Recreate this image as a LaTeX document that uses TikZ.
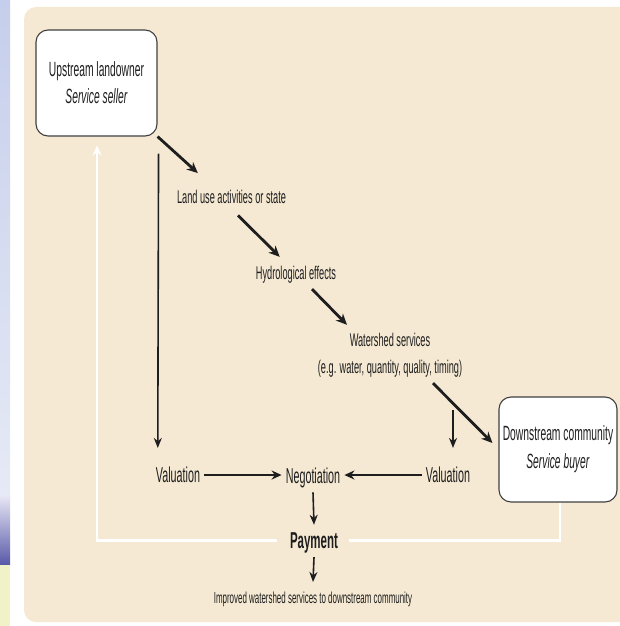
\documentclass[tikz,border=0pt]{standalone}
\usepackage{fontspec}
\setmainfont[FakeStretch=0.5]{Liberation Sans}
\usetikzlibrary{arrows.meta,calc}
\definecolor{panel}{HTML}{F5E9D3}
\definecolor{ink}{HTML}{1E1E1E}
\definecolor{stripA}{RGB}{197,206,236}
\definecolor{stripB}{RGB}{230,234,246}
\definecolor{stripC}{RGB}{232,232,246}
\definecolor{stripD}{RGB}{88,88,168}
\definecolor{stripE}{RGB}{242,242,200}
\begin{document}
\begin{tikzpicture}[x=1pt,y=-1pt,
  lbl/.style={text=ink, inner sep=0pt, anchor=base, font=\fontsize{18.4}{22}\selectfont},
  big/.style={text=ink, inner sep=0pt, anchor=base, font=\fontsize{21.5}{25}\selectfont},
  paylbl/.style={text=ink, inner sep=0pt, anchor=base, font=\fontsize{23}{27}\selectfont\bfseries},
  smalllbl/.style={text=ink, inner sep=0pt, anchor=base, font=\fontsize{15.9}{19}\selectfont},
  box/.style={draw=black!75, line width=1.1pt, fill=white, rounded corners=12pt, align=center, text=ink, inner sep=0pt, font=\fontsize{20.6}{27}\selectfont},
  arr/.style={draw=ink, line width=2.8pt, -{Stealth[length=11pt,width=10pt]}},
  varr/.style={draw=ink, line width=1.6pt, -{Stealth[length=10pt,width=8pt]}},
  harr/.style={draw=ink, line width=2.2pt, -{Stealth[length=10pt,width=9pt]}},
  wline/.style={draw=white, line width=2.6pt}]
\useasboundingbox (0,0) rectangle (619,626);
% left background strip
\shade[top color=stripA, bottom color=stripB] (0,0) rectangle (10,495);
\shade[top color=stripC, bottom color=stripD] (0,495) rectangle (10,565);
\fill[stripE] (0,565) rectangle (10,626);
% panel
\fill[panel, rounded corners=12pt] (24,7) rectangle (660,622);
% boxes
\node[box, minimum width=121pt, minimum height=106pt] (up) at (96.5,83) {Upstream landowner\\\textit{Service seller}};
\node[box, minimum width=118pt, minimum height=105pt, font=\fontsize{20.6}{28}\selectfont] (down) at (558,449.5) {Downstream community\\\textit{Service buyer}};
% labels
\node[lbl] (landuse) at (231.5,203.6) {Land use activities or state};
\node[lbl] (hydro) at (296,279.6) {Hydrological effects};
\node[text=ink, inner sep=0pt, align=center, font=\fontsize{18.4}{27}\selectfont] (ws) at (390,355.4) {Watershed services\\(e.g. water, quantity, quality, timing)};
\node[big] (valL) at (178,482.7) {Valuation};
\node[big] (neg) at (313,483.7) {Negotiation};
\node[big] (valR) at (448,482.7) {Valuation};
\node[paylbl] (pay) at (314,548.2) {Payment};
\node[smalllbl] (imp) at (313,603.7) {Improved watershed services to downstream community};
% causal chain
\draw[arr] (up.south east) -- ($(landuse.north west)+(21,-17)$);
\draw[arr] ($(landuse.south)+(6.5,11.4)$) -- ($(hydro.north west)+(24,-9.2)$);
\draw[arr] ($(hydro.south)+(16,5.5)$) -- ($(ws.north)+(-43,-8.3)$);
\draw[arr] ($(ws.south)+(43,5.5)$) -- ($(down.west)+(-6,-6.5)$);
% valuation arrows
\draw[varr] ($(up.south east)+(1,17)$) -- ($(valL.north west)+(2,-19)$);
\draw[varr] ($(valR.north)+(5,-57)$) -- ($(valR.north)+(5,-19)$);
\draw[harr] ($(valL.east)+(4,0)$) -- ($(neg.west |- valL.east)+(-4,0)$);
\draw[harr] ($(valR.west)+(-4,0)$) -- ($(neg.east |- valR.west)+(4,0)$);
\draw[varr] ($(neg.south)+(0,4)$) -- ($(pay.north)+(0,-7.4)$);
\draw[varr] ($(pay.south)+(0,4)$) -- ($(imp.north)+(0,-10)$);
% payment return path
\draw[wline] ($(down.south)+(2,0)$) |- ($(pay.east)+(11,-2)$);
\draw[wline, -{Stealth[length=10pt,width=9pt]}] ($(pay.west)+(-13,-2)$) -| ($(up.south)+(0.5,9)$);
\end{tikzpicture}
\end{document}
